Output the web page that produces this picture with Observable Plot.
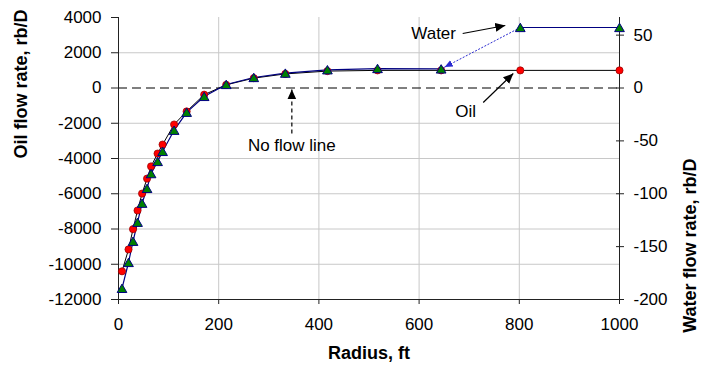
<!DOCTYPE html>
<html>
<head>
<meta charset="utf-8">
<script src="https://cdn.jsdelivr.net/npm/d3@7"></script>
<script src="https://cdn.jsdelivr.net/npm/@observablehq/plot@0.6"></script>
<style>
  html, body { margin: 0; padding: 0; background: #fff; }
  svg { display: block; }
</style>
</head>
<body>
<div id="chart"></div>
<script>
// ---- data ----
const radius    = [7, 20, 29, 38, 47, 57, 65, 78, 88, 111, 136, 171, 215, 270, 333, 417, 517, 644, 802, 1000];
const oilRate   = [-10400, -9160, -8010, -6950, -5990, -5140, -4450, -3720, -3210, -2070, -1330, -380, 180, 560, 800, 960, 1000, 1000, 1000, 1000];
const waterRate = [-189.5, -165, -145, -127, -109, -95, -81, -69.5, -60, -40, -23, -8, 3.3, 9.9, 14, 17.2, 18.4, 18, 57.2, 57.2];

const xTicks     = [0, 200, 400, 600, 800, 1000];
const oilTicks   = [-12000, -10000, -8000, -6000, -4000, -2000, 0, 2000, 4000];
const waterTicks = [-200, -150, -100, -50, 0, 50];
const xDomain     = [0, 1000];
const oilDomain   = [-12000, 4000];
const waterDomain = [-200, 66.6667];

// annotation texts and arrows (data units: radius ft, oil rb/D)
const labelText = ["Water", "Oil", "No flow line"];
const labelX    = [629, 693, 346];
const labelY    = [3092, -1333, -3262];
const arrowX1   = [687, 728, 346];
const arrowY1   = [3092, -823, -2580];
const arrowX2   = [772, 788, 346];
const arrowY2   = [3546, 823, -80];

// ---- helpers: water plotted on the oil (left) scale, right axis relabelled ----
const ratio = (oilDomain[1] - oilDomain[0]) / (waterDomain[1] - waterDomain[0]);
const waterToOil = w => oilDomain[0] + (w - waterDomain[0]) * ratio;
const oilToWater = o => waterDomain[0] + (o - oilDomain[0]) / ratio;

const rows = radius.map((r, i) => ({r, oil: oilRate[i], water: waterToOil(waterRate[i]), i}));
const waterSeg1 = rows.slice(0, 18);
const waterSeg2 = rows.slice(18);
const waterJump = [{x1: rows[18].r, y1: rows[18].water, x2: rows[17].r, y2: rows[17].water}];
const labels = labelText.map((t, i) => ({t, x: labelX[i], y: labelY[i]}));
const arrows = arrowX1.map((x1, i) => ({x1, y1: arrowY1[i], x2: arrowX2[i], y2: arrowY2[i], dashed: i === 2}));

const font = "'Liberation Sans', Arial, Helvetica, sans-serif";
const ARROW = "#000001";
const WARROW = "#2a2ad0";

const plot = Plot.plot({
  width: 701,
  height: 371,
  marginLeft: 118,
  marginRight: 82,
  marginTop: 17,
  marginBottom: 72,
  style: {fontFamily: font, fontSize: "17px", color: "#000", background: "#fff", overflow: "visible"},
  x: {domain: xDomain, axis: null},
  y: {domain: oilDomain, axis: null},
  marks: [
    Plot.gridX(xTicks.slice(1, -1), {stroke: "#c8c8c8", strokeOpacity: 1}),
    Plot.gridY(oilTicks.filter(t => t !== 0 && t !== oilDomain[0] && t !== oilDomain[1]), {stroke: "#c8c8c8", strokeOpacity: 1}),
    Plot.ruleY([0], {stroke: "#000", strokeDasharray: "9,5", strokeWidth: 1.2}),
    // frame lines
    Plot.ruleX([xDomain[0], xDomain[1]], {stroke: "#222"}),
    Plot.ruleY([oilDomain[0]], {stroke: "#222"}),
    // axes
    Plot.axisX({ticks: xTicks, tickSize: 5, tickPadding: 13, tickFormat: d => String(d), label: null, stroke: "#222", fill: "#000"}),
    Plot.axisY({ticks: oilTicks, anchor: "left", tickSize: 7, tickPadding: 10, tickFormat: d => String(d), label: null, stroke: "#222", fill: "#000"}),
    Plot.axisY({ticks: waterTicks.map(waterToOil), anchor: "right", tickSize: 4, tickPadding: 10,
      tickFormat: d => String(Math.round(oilToWater(d))), label: null, stroke: "#222", fill: "#000"}),
    Plot.axisY({ticks: waterTicks.map(waterToOil), anchor: "right", tickSize: -4, tickFormat: () => "", label: null, stroke: "#222"}),
    // axis titles
    Plot.text(["Oil flow rate, rb/D"], {text: d => d, frameAnchor: "left", dx: -97, rotate: -90, fontWeight: "bold", fontSize: 18, fill: "#000"}),
    Plot.text(["Water flow rate, rb/D"], {text: d => d, frameAnchor: "right", dx: 71, rotate: -90, fontWeight: "bold", fontSize: 18, fill: "#000"}),
    Plot.text(["Radius, ft"], {text: d => d, frameAnchor: "bottom", dy: 59, fontWeight: "bold", fontSize: 18, fill: "#000"}),
    // series lines
    Plot.line(rows, {x: "r", y: "oil", stroke: "#000", strokeWidth: 1}),
    Plot.line(waterSeg1, {x: "r", y: "water", stroke: "#000080", strokeWidth: 1.2}),
    Plot.line(waterSeg2, {x: "r", y: "water", stroke: "#000080", strokeWidth: 1.2}),
    Plot.link(waterJump, {x1: "x1", y1: "y1", x2: "x2", y2: "y2", stroke: WARROW, strokeWidth: 1, strokeDasharray: "2,1.5"}),
    // markers
    Plot.dot(rows, {x: "r", y: "oil", r: 3.6, fill: "#ff0000", stroke: "#900000", strokeWidth: 0.7}),
    Plot.dot(rows, {x: "r", y: "water", symbol: "triangle", r: 3.6, dy: 1.3, fill: "#008000", stroke: "#000080", strokeWidth: 1}),
    // annotations
    Plot.link(arrows.filter(a => !a.dashed), {x1: "x1", y1: "y1", x2: "x2", y2: "y2", stroke: ARROW, strokeWidth: 1.2}),
    Plot.link(arrows.filter(a => a.dashed), {x1: "x1", y1: "y1", x2: "x2", y2: "y2", stroke: ARROW, strokeWidth: 1.2, strokeDasharray: "4,3"}),
    Plot.text(labels, {x: "x", y: "y", text: "t", fontSize: 17, fill: "#000"})
  ]
});

// filled arrowheads for annotation arrows
const ns = "http://www.w3.org/2000/svg";
function makeMarker(id, color, len, half, gap) {
  const m = document.createElementNS(ns, "marker");
  m.setAttribute("id", id);
  m.setAttribute("viewBox", `0 ${-half - 1} ${len + gap + 1} ${2 * half + 2}`);
  m.setAttribute("refX", String(len + gap));
  m.setAttribute("refY", "0");
  m.setAttribute("markerWidth", String(len + gap + 1));
  m.setAttribute("markerHeight", String(2 * half + 2));
  m.setAttribute("markerUnits", "userSpaceOnUse");
  m.setAttribute("orient", "auto");
  const p = document.createElementNS(ns, "path");
  p.setAttribute("d", `M0,${-half}L${len},0L0,${half}Z`);
  p.setAttribute("fill", color);
  p.setAttribute("stroke", "none");
  m.appendChild(p);
  return m;
}
const defs = document.createElementNS(ns, "defs");
defs.appendChild(makeMarker("ahBlack", "#000", 10, 4.5, 0));
defs.appendChild(makeMarker("ahBlue", WARROW, 8, 3.5, 4));
plot.insertBefore(defs, plot.firstChild);
plot.querySelectorAll('g[aria-label="link"]').forEach(g => {
  const s = (g.getAttribute("stroke") || "").toLowerCase();
  const id = s === WARROW ? "ahBlue" : s === ARROW ? "ahBlack" : null;
  if (id) g.querySelectorAll("path, line").forEach(p => p.setAttribute("marker-end", `url(#${id})`));
});

document.getElementById("chart").appendChild(plot);
</script>
</body>
</html>
